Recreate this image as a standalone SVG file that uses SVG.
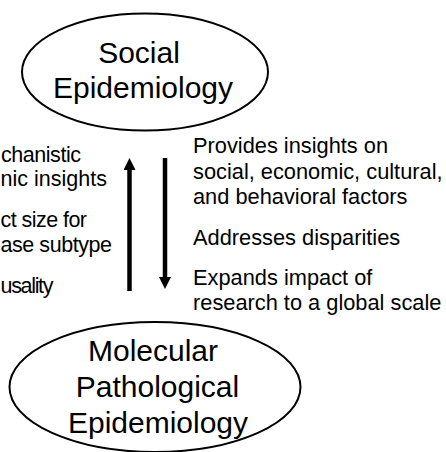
<svg xmlns="http://www.w3.org/2000/svg" width="446" height="452" viewBox="0 0 446 452">
<defs>
<style>
.oval{fill:none;stroke:#000;stroke-width:2}
.big{font-family:"Liberation Sans",Arial,sans-serif;font-size:30px;fill:#000;text-anchor:middle}
.txt{font-family:"Liberation Sans",Arial,sans-serif;font-size:21.8px;fill:#000}
.lt{font-size:21.5px}
.shaft{stroke:#000;stroke-width:4.5;fill:none}
</style>
<marker id="head" viewBox="0 0 12 12" markerWidth="12" markerHeight="12" markerUnits="userSpaceOnUse" refX="0" refY="6" orient="auto">
<path d="M0,0 L12,6 L0,12 z" fill="#000"/>
</marker>
</defs>
<rect width="446" height="452" fill="#fff"/>
<g id="social-epidemiology">
<ellipse class="oval" cx="145" cy="72" rx="123" ry="58.5"/>
<text class="big" x="139" y="63">Social</text>
<text class="big" x="143" y="98">Epidemiology</text>
</g>
<g id="molecular-pathological-epidemiology">
<ellipse class="oval" cx="155" cy="387" rx="145.5" ry="65"/>
<text class="big" x="153" y="360.5">Molecular</text>
<text class="big" x="157.5" y="397">Pathological</text>
<text class="big" x="158" y="433">Epidemiology</text>
</g>
<g id="connectors">
<line class="shaft" x1="129.5" y1="291" x2="129.5" y2="170" marker-end="url(#head)"/>
<line class="shaft" x1="165" y1="158" x2="165" y2="277" marker-end="url(#head)"/>
</g>
<g id="left-labels">
<text class="txt lt" x="1" y="162" textLength="80" lengthAdjust="spacing">chanistic</text>
<text class="txt lt" x="0.5" y="186" textLength="106.5" lengthAdjust="spacing">nic insights</text>
<text class="txt lt" x="0.5" y="227" textLength="86.5" lengthAdjust="spacing">ct size for</text>
<text class="txt lt" x="0.5" y="252" textLength="111.5" lengthAdjust="spacing">ase subtype</text>
<text class="txt lt" x="0.5" y="293" textLength="53" lengthAdjust="spacing">usality</text>
</g>
<g id="right-labels">
<text class="txt" x="193" y="153">Provides insights on</text>
<text class="txt" x="193" y="179">social, economic, cultural,</text>
<text class="txt" x="193" y="204">and behavioral factors</text>
<text class="txt" x="193" y="245">Addresses disparities</text>
<text class="txt" x="193" y="285">Expands impact of</text>
<text class="txt" x="193" y="310">research to a global scale</text>
</g>
</svg>
